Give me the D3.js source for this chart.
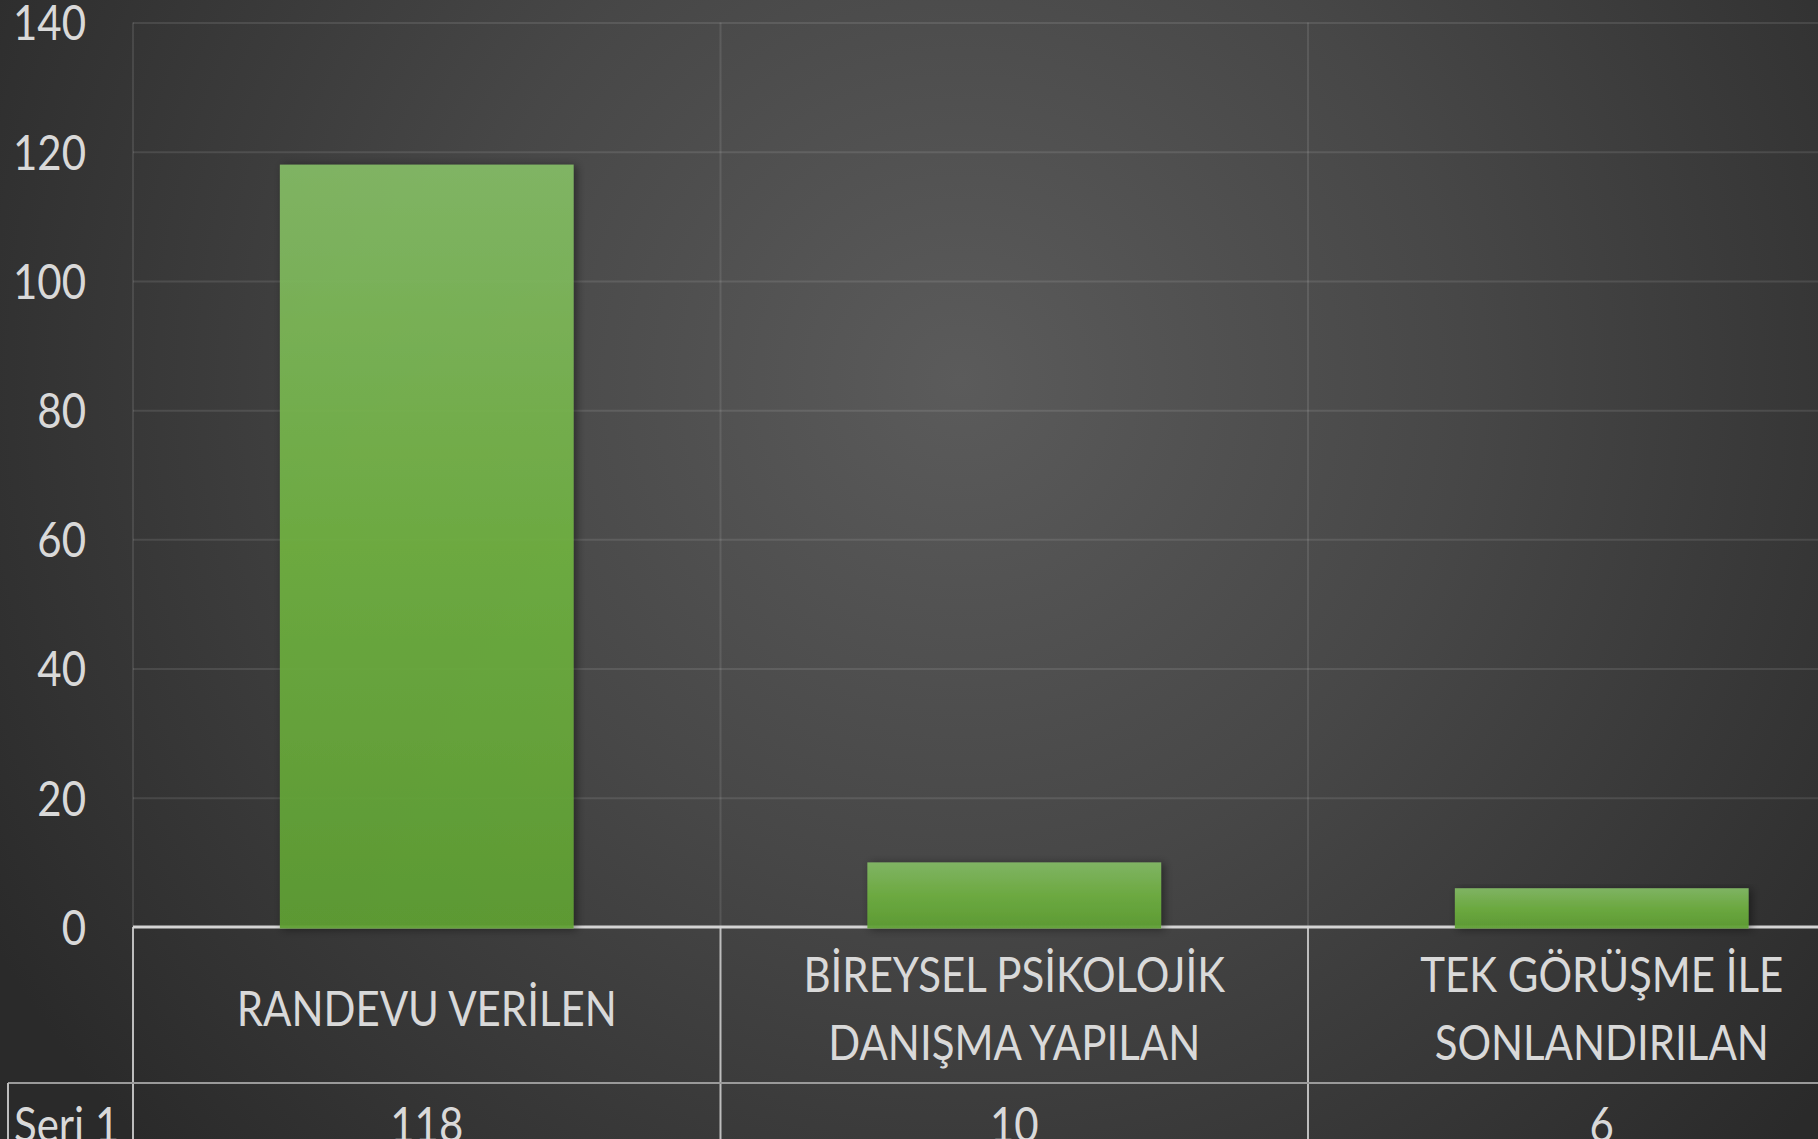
<!DOCTYPE html>
<html>
<head>
<meta charset="utf-8">
<script src="https://cdn.jsdelivr.net/npm/d3@7/dist/d3.min.js"></script>
<style>
  html, body { margin: 0; padding: 0; background: #2b2b2b; overflow: hidden; }
  svg { display: block; }
  .lbl { font-family: Lato, "Open Sans", sans-serif; fill: #d9d9d9; }
</style>
</head>
<body>
<svg id="chart" width="1818" height="1139"></svg>
<script>
// Chart data.
var categories = ['RANDEVU VERİLEN', 'BİREYSEL PSİKOLOJİK DANIŞMA YAPILAN',
  'TEK GÖRÜŞME İLE SONLANDIRILAN'];
var categoryLines = [
  ['RANDEVU VERİLEN'],
  ['BİREYSEL PSİKOLOJİK', 'DANIŞMA YAPILAN'],
  ['TEK GÖRÜŞME İLE', 'SONLANDIRILAN']
];
var seriesName = 'Seri 1';
var seriesValues = [118, 10, 6];
var yTicks = [0, 20, 40, 60, 80, 100, 120, 140];

var W = 1818, H = 1139;
var plotLeft = 133, catStep = 587.5;
var plotTop = 22.5, plotBottom = 927;
var tableRow = 1083, tableLeft = 8;
var fontSize = 48, squeeze = 0.875;

var svg = d3.select('#chart');
var defs = svg.append('defs');

// Background radial gradient, lighter in the middle.
var bg = defs.append('radialGradient')
  .attr('id', 'bg')
  .attr('gradientUnits', 'userSpaceOnUse')
  .attr('cx', 960).attr('cy', 380).attr('r', 1120);
bg.append('stop').attr('offset', 0).attr('stop-color', '#5b5b5b');
bg.append('stop').attr('offset', 0.45).attr('stop-color', '#474747');
bg.append('stop').attr('offset', 1).attr('stop-color', '#2a2a2a');

var barGrad = defs.append('linearGradient')
  .attr('id', 'bar')
  .attr('x1', 0).attr('y1', 0).attr('x2', 0).attr('y2', 1);
barGrad.append('stop').attr('offset', 0).attr('stop-color', '#84bb66');
barGrad.append('stop').attr('offset', 0.5).attr('stop-color', '#6fb041');
barGrad.append('stop').attr('offset', 1).attr('stop-color', '#5f9f33');

var shadow = defs.append('filter')
  .attr('id', 'shadow')
  .attr('x', '-10%').attr('y', '-10%').attr('width', '130%').attr('height', '130%');
shadow.append('feDropShadow')
  .attr('dx', 3).attr('dy', 1).attr('stdDeviation', 4)
  .attr('flood-color', '#000').attr('flood-opacity', 0.45);

svg.append('rect')
  .attr('width', W).attr('height', H)
  .attr('fill', 'url(#bg)');

// Scales.
var xCat = d3.scaleBand()
  .domain(categories)
  .range([plotLeft, plotLeft + catStep * categories.length]);
var xBar = d3.scaleBand()
  .domain(categories)
  .range([plotLeft, plotLeft + catStep * categories.length])
  .paddingInner(0.5)
  .paddingOuter(0.25);
var y = d3.scaleLinear()
  .domain([0, 140])
  .range([plotBottom, plotTop]);

// Horizontal gridlines.
svg.append('g')
  .attr('transform', 'translate(' + plotLeft + ',0)')
  .call(d3.axisLeft(y).tickValues(yTicks.slice(1))
    .tickSize(-(W - plotLeft)).tickFormat(''))
  .call(function(g) {
    g.select('.domain').remove();
    g.selectAll('line')
      .attr('stroke', 'rgba(255,255,255,0.1)')
      .attr('stroke-width', 2);
  });

// Vertical dividers inside the plot.
var bounds = categories.map(function(c) { return xCat(c); });
svg.append('g').selectAll('line')
  .data(bounds)
  .join('line')
  .attr('x1', function(d) { return d; })
  .attr('x2', function(d) { return d; })
  .attr('y1', plotTop)
  .attr('y2', plotBottom)
  .attr('stroke', 'rgba(255,255,255,0.1)')
  .attr('stroke-width', 2);

// Table lines.
var table = svg.append('g')
  .attr('stroke', '#bdbdbd')
  .attr('stroke-width', 2)
  .attr('fill', 'none');
table.selectAll('line.v')
  .data(bounds)
  .join('line')
  .attr('class', 'v')
  .attr('x1', function(d) { return d; })
  .attr('x2', function(d) { return d; })
  .attr('y1', plotBottom)
  .attr('y2', H);
table.append('line')
  .attr('x1', tableLeft).attr('x2', W)
  .attr('y1', tableRow).attr('y2', tableRow)
  .attr('stroke', '#9a9a9a');
table.append('line')
  .attr('x1', tableLeft).attr('x2', tableLeft)
  .attr('y1', tableRow).attr('y2', H);

// Zero axis line.
svg.append('line')
  .attr('x1', plotLeft).attr('x2', W)
  .attr('y1', y(0)).attr('y2', y(0))
  .attr('stroke', '#d4d4d4')
  .attr('stroke-width', 3);

// Bars.
svg.append('g')
  .selectAll('rect')
  .data(seriesValues)
  .join('rect')
  .attr('x', function(d, i) { return xBar(categories[i]); })
  .attr('width', xBar.bandwidth())
  .attr('y', function(d) { return y(d); })
  .attr('height', function(d) { return y(0) - y(d) + 1.5; })
  .attr('fill', 'url(#bar)')
  .attr('opacity', 0.94)
  .attr('filter', 'url(#shadow)');

// Y tick labels.
svg.append('g')
  .attr('transform', 'translate(86,0)')
  .call(d3.axisLeft(y).tickValues(yTicks).tickSize(0).tickPadding(0))
  .call(function(g) {
    g.select('.domain').remove();
    g.selectAll('text')
      .attr('class', 'lbl')
      .attr('fill', null)
      .attr('font-size', fontSize)
      .attr('font-family', null)
      .attr('dy', '0.36em')
      .attr('transform', 'scale(' + squeeze + ',1)');
  });

// Category labels in the first table row.
var lineGap = 68;
var catLabels = svg.append('g').selectAll('text')
  .data(categoryLines)
  .join('text')
  .attr('class', 'lbl')
  .attr('font-size', fontSize)
  .attr('text-anchor', 'middle')
  .attr('transform', function(d, i) {
    var cx = xCat(categories[i]) + xCat.bandwidth() / 2;
    var base = 1026 - (d.length - 1) * lineGap / 2;
    return 'translate(' + cx + ',' + base + ') scale(' + squeeze + ',1)';
  });
catLabels.selectAll('tspan')
  .data(function(d) { return d; })
  .join('tspan')
  .attr('x', 0)
  .attr('y', function(d, i) { return i * lineGap; })
  .text(function(d) { return d; });

// Value row.
var valueBase = 1142;
svg.append('text')
  .attr('class', 'lbl')
  .attr('font-size', fontSize)
  .attr('transform', 'translate(14,' + valueBase + ') scale(' + squeeze + ',1)')
  .text(seriesName);
svg.append('g').selectAll('text')
  .data(seriesValues)
  .join('text')
  .attr('class', 'lbl')
  .attr('font-size', fontSize)
  .attr('text-anchor', 'middle')
  .attr('transform', function(d, i) {
    var cx = xCat(categories[i]) + xCat.bandwidth() / 2;
    return 'translate(' + cx + ',' + valueBase + ') scale(' + squeeze + ',1)';
  })
  .text(function(d) { return d; });
</script>
</body>
</html>
